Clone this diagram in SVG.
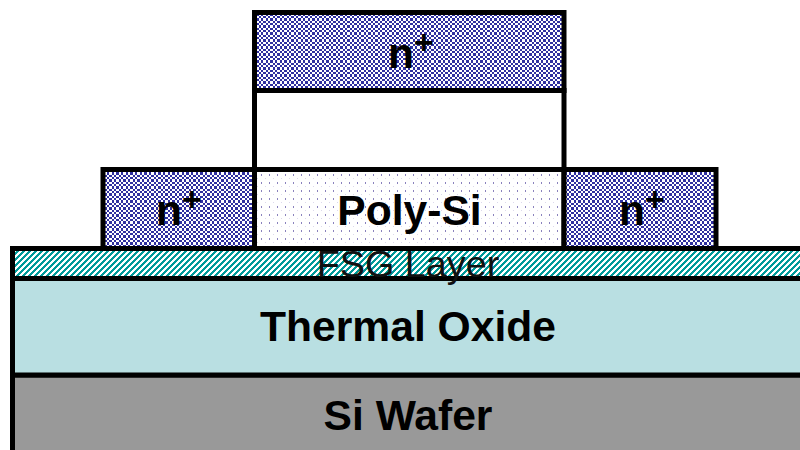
<svg xmlns="http://www.w3.org/2000/svg" width="800" height="450" viewBox="0 0 800 450">
<style>
.o{stroke:#000;stroke-width:5}
.b{font-family:"Liberation Sans",Arial,sans-serif;font-weight:700;font-size:42.6px;fill:#000;text-anchor:middle}
.s{font-size:34px}
.r{font-family:"Liberation Sans",Arial,sans-serif;font-size:37.8px;fill:#111;text-anchor:middle}
</style>
<defs>
<pattern id="chk" width="14" height="14" patternUnits="userSpaceOnUse">
<rect width="14" height="14" fill="#fff"/>
<path shape-rendering="crispEdges" fill="#2f2f9f" d="M0 0h2v2H0zM4 0h3v2H4zM9 0h2v2H9zM2 2h2v2H2zM7 2h2v2H7zM11 2h3v2H11zM0 4h2v3H0zM4 4h3v3H4zM9 4h2v3H9zM2 7h2v2H2zM7 7h2v2H7zM11 7h3v2H11zM0 9h2v2H0zM4 9h3v2H4zM9 9h2v2H9zM2 11h2v3H2zM7 11h2v3H7zM11 11h3v3H11z"/>
</pattern>
<pattern id="dot" width="8" height="8" patternUnits="userSpaceOnUse">
<rect width="8" height="8" fill="#fff"/>
<rect x="5" y="6" width="1" height="2" fill="#8a82bd"/>
<rect x="1" y="2" width="1" height="1" fill="#dcd9ec"/>
</pattern>
<pattern id="fsg" width="6" height="6" patternUnits="userSpaceOnUse">
<rect width="6" height="6" fill="#fff"/>
<path shape-rendering="crispEdges" d="M3 0h3v1H3zM2 1h3v1H2zM1 2h3v1H1zM0 3h3v1H0zM0 4h2v1H0zM5 4h1v1H5zM0 5h1v1H0zM4 5h2v1H4z" fill="#009999"/>
</pattern>
</defs>
<g id="si-wafer"><rect class="o" x="12.5" y="375" width="800" height="90" fill="#999"/><text class="b" x="408" y="430">Si Wafer</text></g>
<g id="thermal-oxide"><rect class="o" x="12.5" y="278.5" width="800" height="96.5" fill="#b9dfe2"/><text class="b" x="408" y="341">Thermal Oxide</text></g>
<g id="fsg-layer"><rect class="o" x="12.5" y="248.5" width="800" height="30" fill="url(#fsg)"/><text class="r" x="408" y="277">FSG Layer</text></g>
<g id="gate-gap"><rect class="o" x="254.5" y="90.5" width="309.5" height="79" fill="#fff"/></g>
<g id="poly-si"><rect class="o" x="254.5" y="169.5" width="309.5" height="79" fill="url(#dot)"/><text class="b" x="409.5" y="225">Poly-Si</text></g>
<g id="n-top"><rect class="o" x="254.5" y="12.5" width="309.5" height="78" fill="url(#chk)"/><text class="b" x="411" y="68">n<tspan class="s" dy="-14">+</tspan></text></g>
<g id="n-left"><rect class="o" x="103" y="169.5" width="151.5" height="79" fill="url(#chk)"/><text class="b" x="179" y="225">n<tspan class="s" dy="-14">+</tspan></text></g>
<g id="n-right"><rect class="o" x="564" y="169.5" width="152" height="79" fill="url(#chk)"/><text class="b" x="642" y="225">n<tspan class="s" dy="-14">+</tspan></text></g>
</svg>
